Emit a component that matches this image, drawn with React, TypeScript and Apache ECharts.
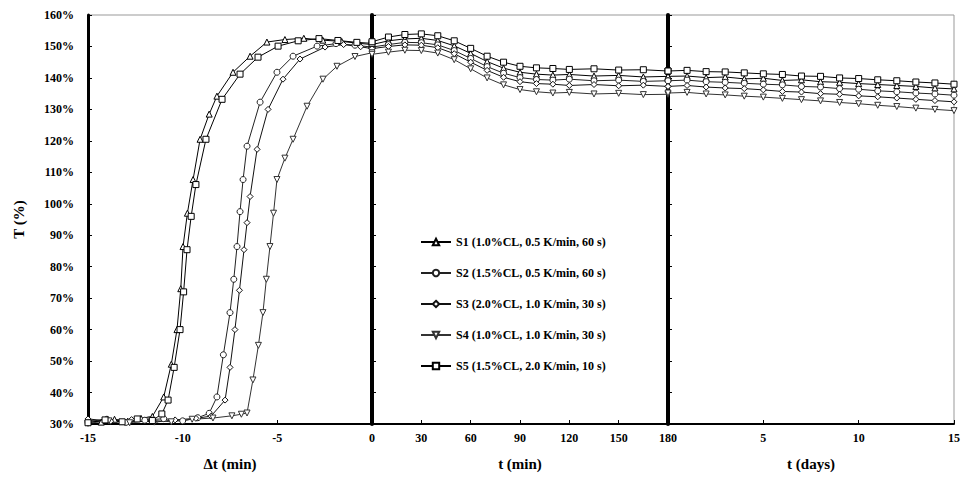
import React, { useEffect, useRef } from "react";
import * as echarts from "echarts";

// ---- Data ----
const seriesNames = [
  "S1 (1.0%CL, 0.5 K/min, 60 s)",
  "S2 (1.5%CL, 0.5 K/min, 60 s)",
  "S3 (2.0%CL, 1.0 K/min, 30 s)",
  "S4 (1.0%CL, 1.0 K/min, 30 s)",
  "S5 (1.5%CL, 2.0 K/min, 10 s)",
];

// Panel 1: x = Δt (min), y = %
const p1S1 = [[-15,31.2],[-14.3,30.6],[-13.6,31.5],[-12.9,30.9],[-12.2,31.8],[-11.6,32.4],[-11.0,38.6],[-10.6,49],[-10.3,60],[-10.1,73],[-9.98,86.4],[-9.75,97],[-9.45,107.7],[-9.08,120.5],[-8.6,128.5],[-8.19,134.2],[-7.34,141.8],[-6.44,146.9],[-5.55,151.4],[-4.6,152.2],[-3.6,152.6],[-2.6,152],[-1.6,151.6],[-0.7,151],[0,150.6]];
const p1S2 = [[-15,30.8],[-14,31.5],[-13,30.5],[-12,31.2],[-11,31.7],[-10,31.0],[-9.2,32.0],[-8.6,33.4],[-8.19,38.6],[-7.85,52],[-7.5,65.4],[-7.3,76],[-7.13,86.4],[-6.97,97.5],[-6.81,107.7],[-6.6,118.3],[-5.91,132.3],[-5.02,141.8],[-4.17,146.9],[-2.9,150.1],[-1.9,150.9],[-0.9,150.4],[0,149.8]];
const p1S3 = [[-15,31.6],[-13.8,30.9],[-12.7,31.4],[-11.5,30.6],[-10.4,31.3],[-9.3,31.8],[-8.5,32.5],[-7.76,37.6],[-7.5,48],[-7.24,60],[-7.0,72.5],[-6.76,85.4],[-6.6,94],[-6.44,102.3],[-6.07,117.3],[-5.49,130],[-4.7,139.6],[-3.8,146],[-2.48,149.8],[-1.5,150.6],[-0.6,149.9],[0,149.3]];
const p1S4 = [[-15,30.2],[-13.9,31],[-12.8,30.4],[-11.7,31.2],[-10.6,30.7],[-9.5,31.5],[-8.4,31.9],[-7.4,32.6],[-6.9,33.1],[-6.6,33.5],[-6.29,44],[-6.0,55],[-5.76,65.4],[-5.58,76],[-5.39,86.4],[-5.2,97],[-5.02,107.7],[-4.6,114.5],[-4.17,120.5],[-3.43,131],[-2.59,139.6],[-1.85,143.7],[-0.9,146.8],[0,148]];
const p1S5 = [[-15,30.4],[-14.1,31.3],[-13.2,30.7],[-12.4,31.6],[-11.6,31.1],[-11.1,33.2],[-10.77,37.6],[-10.45,48],[-10.14,60],[-9.95,72],[-9.77,85.4],[-9.55,96],[-9.3,106.1],[-8.77,120.5],[-7.92,133.2],[-6.97,141.2],[-6.02,146.6],[-4.96,150.1],[-3.9,151.8],[-2.8,152.5],[-1.8,151.9],[-0.8,151.3],[0,151]];

// Panel 2: x = t (min)
const p2X = [0,10,20,30,40,50,60,70,80,90,100,110,120,135,150,165,180];
const p2S1 = [150.6,151.8,152.4,152.6,151.9,150.2,147.8,145.2,143.1,141.8,141.2,140.9,141.1,140.6,140.8,140.3,140.5];
const p2S2 = [149.8,150.6,151.3,151.2,150.5,148.7,146.2,143.6,141.5,140.1,139.5,139.3,139.6,139.1,139.3,138.9,139.1];
const p2S3 = [149.3,150,150.5,150.4,149.6,147.7,145,142.4,140.2,138.8,138.2,138,137.6,137.9,137.5,137.7,137.3];
const p2S4 = [147.5,148.2,148.8,148.7,147.9,145.8,142.9,140,137.8,136.3,135.6,135.2,135.4,134.9,135.1,134.7,134.8];
const p2S5 = [151.5,153,153.8,154,153.4,151.8,149.4,146.9,145,143.7,143.2,143,142.7,142.9,142.5,142.6,142.2];

// Panel 3: x = t (days)
const p3X = [0,1,2,3,4,5,6,7,8,9,10,11,12,13,14,15];
const p3S1 = [140.5,140.6,140.1,140.3,139.7,139.9,139.2,139.4,138.8,138.6,138.2,137.9,137.6,137.3,136.8,136.5];
const p3S2 = [139.1,139.3,138.8,138.6,138.3,138,137.8,137.3,137.1,136.6,136.4,135.9,135.6,135.2,134.9,134.5];
const p3S3 = [137.3,137.6,137.1,136.8,136.6,136.2,135.7,135.5,135,134.8,134.3,134,133.6,133.2,132.8,132.4];
const p3S4 = [135.2,135.4,134.9,134.6,134.2,133.9,133.5,133.1,132.7,132.2,131.8,131.3,130.9,130.4,130,129.6];
const p3S5 = [142.2,142.4,142,141.9,141.6,141.3,141.1,140.6,140.5,140,139.8,139.4,139.1,138.7,138.4,138];

const panel1 = [p1S1, p1S2, p1S3, p1S4, p1S5];
const panel2 = [p2S1, p2S2, p2S3, p2S4, p2S5];
const panel3 = [p3S1, p3S2, p3S3, p3S4, p3S5];

const axisTitles = ["Δt (min)", "t (min)", "t (days)"];
const yTitle = "T (%)";

const symbols = [
  "triangle",
  "circle",
  "diamond",
  "path://M0,0 L10,0 L5,10 Z",
  "rect",
];
const lineColors = ["#000", "#222", "#111", "#333", "#000"];

const FONT = "Liberation Serif";

export default function App() {
  const ref = useRef<HTMLDivElement>(null);
  useEffect(() => {
    document.body.style.margin = "0";
    const chart = echarts.init(ref.current!, undefined, { renderer: "svg" });

    const grids = [
      { left: 88, top: 15, width: 284, height: 409 },
      { left: 372, top: 15, width: 296, height: 409 },
      { left: 668, top: 15, width: 290, height: 409 },
    ].map((g) => ({ ...g, show: true, borderColor: "#999", borderWidth: 1 }));

    const xRanges = [
      { min: -15, max: 0, interval: 5 },
      { min: 0, max: 180, interval: 30 },
      { min: 0, max: 15, interval: 5 },
    ];

    const xAxis = xRanges.map((r, i) => ({
      type: "value",
      gridIndex: i,
      ...r,
      name: axisTitles[i],
      nameLocation: "middle",
      nameGap: 32,
      nameTextStyle: { fontFamily: FONT, fontSize: 15, fontWeight: "bold", color: "#000" },
      axisLine: { onZero: false, lineStyle: { color: "#000", width: 2 } },
      axisTick: { inside: true, length: 4, lineStyle: { color: "#000" } },
      axisLabel: {
        fontFamily: FONT,
        fontSize: 12,
        fontWeight: "bold",
        color: "#000",
        margin: 8,
        showMinLabel: i === 0,
      },
      splitLine: { show: false },
    }));

    const yAxis = [0, 1, 2].map((i) => ({
      type: "value",
      gridIndex: i,
      min: 30,
      max: 160,
      interval: 10,
      name: i === 0 ? yTitle : "",
      nameLocation: "middle",
      nameGap: 62,
      nameTextStyle: { fontFamily: FONT, fontSize: 15, fontWeight: "bold", color: "#000" },
      axisLine: {
        show: true,
        onZero: false,
        lineStyle: { color: "#000", width: i === 0 ? 3 : 4 },
      },
      axisTick: { show: true, inside: true, length: 4, lineStyle: { color: "#000" } },
      axisLabel: {
        show: i === 0,
        fontFamily: FONT,
        fontSize: 12,
        fontWeight: "bold",
        color: "#000",
        margin: 14,
        formatter: "{value}%",
      },
      splitLine: { show: false },
    }));

    const series: any[] = [];
    seriesNames.forEach((name, k) => {
      const common = {
        type: "line",
        name,
        symbol: symbols[k],
        symbolSize: 6,
        showSymbol: true,
        lineStyle: { color: lineColors[k], width: 1 },
        itemStyle: { color: "#fff", borderColor: lineColors[k], borderWidth: 1 },
        z: 3,
      };
      series.push({ ...common, xAxisIndex: 0, yAxisIndex: 0, data: panel1[k] });
      series.push({
        ...common,
        xAxisIndex: 1,
        yAxisIndex: 1,
        data: p2X.map((x, j) => [x, panel2[k][j]]),
      });
      series.push({
        ...common,
        xAxisIndex: 2,
        yAxisIndex: 2,
        data: p3X.map((x, j) => [x, panel3[k][j]]),
      });
    });

    chart.setOption({
      animation: false,
      backgroundColor: "#fff",
      grid: grids,
      xAxis,
      yAxis,
      legend: {
        data: seriesNames,
        orient: "vertical",
        left: 415,
        top: 231,
        itemGap: 19,
        itemWidth: 30,
        itemHeight: 8,
        textStyle: { fontFamily: FONT, fontSize: 12, fontWeight: "bold", color: "#000" },
      },
      series,
    });
    return () => chart.dispose();
  }, []);
  return <div ref={ref} style={{ width: 963, height: 486 }} />;
}
